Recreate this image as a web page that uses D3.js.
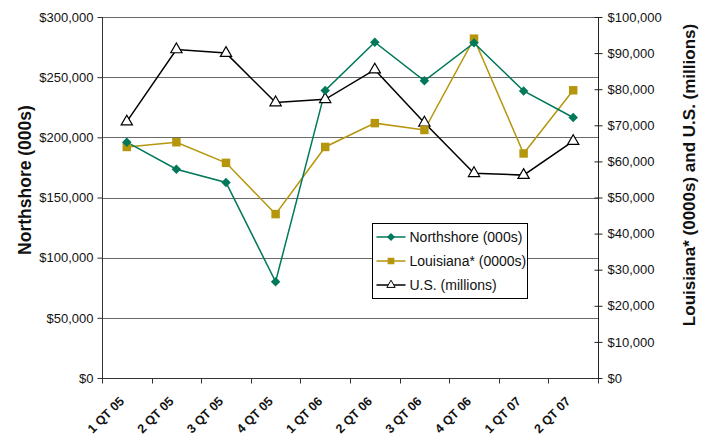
<!DOCTYPE html>
<html><head><meta charset="utf-8">
<script src="https://cdn.jsdelivr.net/npm/d3@7"></script>
<style>body{margin:0;background:#fff}svg{display:block;font-family:"Liberation Sans",Arial,sans-serif}</style>
</head><body><svg id="c" width="702" height="439"></svg>
<script>
const categories = ["1 QT 05","2 QT 05","3 QT 05","4 QT 05","1 QT 06","2 QT 06","3 QT 06","4 QT 06","1 QT 07","2 QT 07"];
const northshore = [196000,173500,162500,80000,239000,279000,247000,278500,238500,216500];
const louisiana = [64000,65300,59600,45400,64000,70600,68700,94000,62200,79700];
const us = [71000,91000,90000,76300,77200,85400,70700,56700,56200,65600];
const leftTicks = [0,50000,100000,150000,200000,250000,300000];
const rightTicks = [0,10000,20000,30000,40000,50000,60000,70000,80000,90000,100000];
const seriesNames = ["Northshore (000s)","Louisiana* (0000s)","U.S. (millions)"];

const svg = d3.select("#c");
const L = 102, R = 598, T = 17, B = 378;
const x = d3.scaleBand().domain(categories).range([L, R]);
const yL = d3.scaleLinear().domain([0,300000]).range([B, T]);
const yR = d3.scaleLinear().domain([0,100000]).range([B, T]);
const fmt = v => "$" + d3.format(",")(v);
const teal = "#00785A", gold = "#B5960C";

// gridlines
svg.append("g").selectAll("line").data(leftTicks.filter(d=>d>0)).join("line")
  .attr("x1", L).attr("x2", R)
  .attr("y1", d=>Math.round(yL(d))+0.5).attr("y2", d=>Math.round(yL(d))+0.5)
  .attr("stroke", "#6a6a6a").attr("stroke-width", 1);

// left axis
const gl = svg.append("g").attr("transform", `translate(${L+0.5},0)`)
  .call(d3.axisLeft(yL).tickValues(leftTicks).tickFormat(fmt).tickSize(5).tickPadding(4));
gl.selectAll("text").attr("font-size", 13).attr("fill", "#111").style("font-family","Liberation Sans, Arial");
gl.selectAll("line,path").attr("stroke", "#333");
gl.select("path").attr("d", `M0,${T}V${B}`);

// right axis
const gr = svg.append("g").attr("transform", `translate(${R+0.5},0)`)
  .call(d3.axisRight(yR).tickValues(rightTicks).tickFormat(fmt).tickSize(4).tickPadding(5));
gr.selectAll(".tick line").attr("x1", -4);
gr.selectAll("text").attr("font-size", 13).attr("fill", "#111").style("font-family","Liberation Sans, Arial");
gr.selectAll("line,path").attr("stroke", "#222");
gr.select("path").attr("d", `M0,${T}V${B}`);

// bottom axis
const xb = svg.append("g").attr("transform", `translate(0,${B+0.5})`);
xb.append("line").attr("x1", L).attr("x2", R).attr("stroke", "#333");
const bounds = categories.map(c=>x(c)).concat([R]);
xb.selectAll("line.t").data(bounds).join("line").attr("class","t")
  .attr("x1", d=>Math.round(d)+0.5).attr("x2", d=>Math.round(d)+0.5).attr("y1",0).attr("y2",5).attr("stroke","#333");
svg.append("g").selectAll("text").data(categories).join("text")
  .attr("transform", d=>`translate(${x(d)+x.bandwidth()/2-2},${B+24}) rotate(-45)`)
  .attr("text-anchor","end").attr("font-size",12.5).attr("font-weight","bold").attr("fill","#111")
  .text(d=>d);

// axis titles
svg.append("text").attr("transform", `translate(${31},${180}) rotate(-90)`)
  .attr("text-anchor","middle").attr("font-size",17.5).attr("font-weight","bold").attr("fill","#111")
  .text("Northshore (000s)");
svg.append("text").attr("transform", `translate(${695},${175}) rotate(-90)`)
  .attr("text-anchor","middle").attr("font-size",17).attr("font-weight","bold").attr("fill","#111")
  .text("Louisiana* (0000s) and U.S. (millions)");

const cx = d => x(d) + x.bandwidth()/2;
const lineGen = (yScale, vals) => d3.line().x((d,i)=>cx(categories[i])).y(d=>yScale(d))(vals);

svg.append("path").attr("d", lineGen(yR, us)).attr("fill","none").attr("stroke","#000").attr("stroke-width",1.5);
svg.append("path").attr("d", lineGen(yR, louisiana)).attr("fill","none").attr("stroke",gold).attr("stroke-width",1.5);
svg.append("path").attr("d", lineGen(yL, northshore)).attr("fill","none").attr("stroke",teal).attr("stroke-width",1.5);

const tri = d3.symbol().type(d3.symbolTriangle).size(55);
const sq = d3.symbol().type(d3.symbolSquare).size(72);
const dia = d3.symbol().type(d3.symbolSquare).size(45);

svg.append("g").selectAll("path").data(us).join("path")
  .attr("d", tri).attr("transform",(d,i)=>`translate(${cx(categories[i])},${yR(d)})`)
  .attr("fill","#fff").attr("stroke","#000").attr("stroke-width",1.2);
svg.append("g").selectAll("path").data(louisiana).join("path")
  .attr("d", sq).attr("transform",(d,i)=>`translate(${cx(categories[i])},${yR(d)})`)
  .attr("fill",gold);
svg.append("g").selectAll("path").data(northshore).join("path")
  .attr("d", dia).attr("transform",(d,i)=>`translate(${cx(categories[i])},${yL(d)}) rotate(45)`)
  .attr("fill",teal);

// legend
svg.append("clipPath").attr("id","lgclip").append("rect").attr("x",0).attr("y",0).attr("width",155).attr("height",75);
const lg = svg.append("g").attr("transform","translate(372.5,223.5)").attr("clip-path","url(#lgclip)");
lg.append("rect").attr("width",155).attr("height",75).attr("fill","#fff");
const colors = [teal, gold, "#000"];
seriesNames.forEach((n,i)=>{
  const yy = 13.5 + i*24;
  lg.append("line").attr("x1",4).attr("x2",33).attr("y1",yy).attr("y2",yy).attr("stroke",colors[i]).attr("stroke-width",1.5);
  const m = lg.append("path").attr("fill", i==2 ? "#fff" : colors[i]).attr("stroke", i==2 ? "#000":"none");
  if (i==0) m.attr("d", d3.symbol().type(d3.symbolSquare).size(32)()).attr("transform",`translate(18.5,${yy}) rotate(45)`);
  else if (i==1) m.attr("d", d3.symbol().type(d3.symbolSquare).size(45)()).attr("transform",`translate(18.5,${yy})`);
  else m.attr("d", d3.symbol().type(d3.symbolTriangle).size(30)()).attr("transform",`translate(18.5,${yy})`);
  lg.append("text").attr("x",37).attr("y",yy+5).attr("font-size",14).attr("fill","#111").text(n);
});
svg.append("rect").attr("x",372.5).attr("y",223.5).attr("width",155).attr("height",75).attr("fill","none").attr("stroke","#000");
</script></body></html>
